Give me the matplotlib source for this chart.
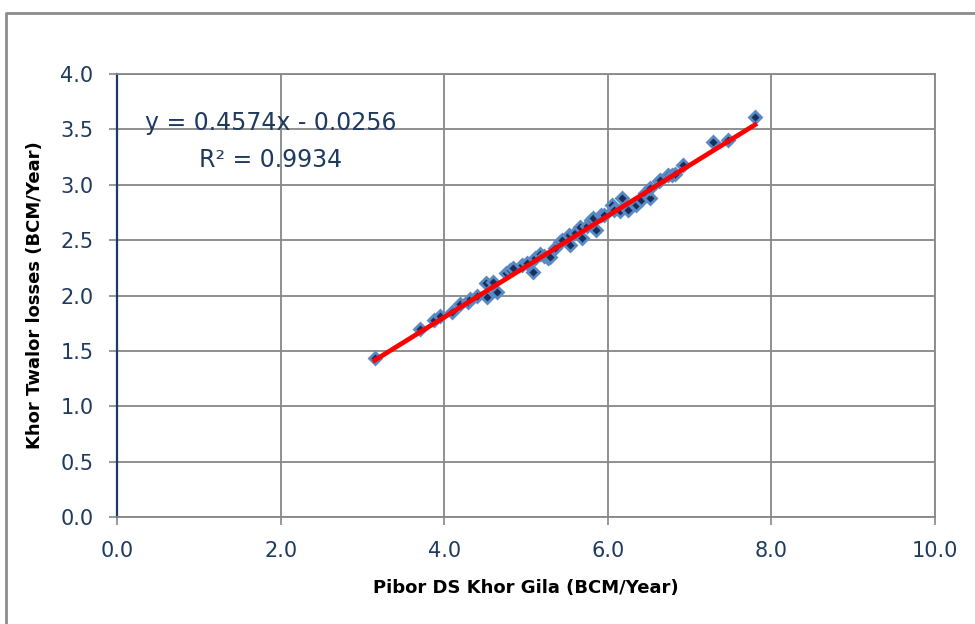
import numpy as np
import matplotlib.pyplot as plt
from matplotlib.lines import Line2D

# values
pibor = [3.15, 3.71, 3.87, 3.95, 4.09, 4.19, 4.29, 4.32, 4.40, 4.51, 4.52, 4.60,
         4.65, 4.76, 4.80, 4.84, 4.95, 5.01, 5.09, 5.11, 5.17, 5.22, 5.27, 5.29,
         5.35, 5.41, 5.44, 5.52, 5.54, 5.60, 5.66, 5.68, 5.74, 5.80, 5.82, 5.86,
         5.92, 5.95, 6.05, 6.07, 6.15, 6.17, 6.25, 6.35, 6.41, 6.45, 6.52, 6.52,
         6.62, 6.64, 6.74, 6.78, 6.82, 6.92, 7.28, 7.47, 7.80]
twalor = [1.44, 1.70, 1.78, 1.815, 1.85, 1.92, 1.94, 1.97, 2.00, 2.11, 1.99, 2.125,
          2.035, 2.20, 2.23, 2.245, 2.275, 2.29, 2.215, 2.335, 2.375, 2.36, 2.335, 2.35,
          2.425, 2.485, 2.50, 2.545, 2.456, 2.56, 2.62, 2.515, 2.63, 2.68, 2.70, 2.59,
          2.73, 2.73, 2.82, 2.77, 2.76, 2.88, 2.77, 2.82, 2.86, 2.93, 2.88, 2.97,
          3.03, 3.04, 3.09, 3.09, 3.10, 3.18, 3.39, 3.40, 3.61]

slope = 0.4574
intercept = -0.0256
r2 = 0.9934

x_ticks = [0, 2, 4, 6, 8, 10]
y_ticks = [0, 0.5, 1.0, 1.5, 2.0, 2.5, 3.0, 3.5, 4.0]

navy = '#1F3A5F'
grid = '#878787'

fig = plt.figure(figsize=(9.75, 6.24), dpi=100)
ax = fig.add_axes([117/975, 1 - 517/624, (935-117)/975, (517-74)/624])

ax.plot(pibor, twalor, linestyle='none', marker='D', markersize=6.3,
        markerfacecolor='#17305A', markeredgecolor='#5A8AC6', markeredgewidth=2, zorder=3)

xl = np.array([min(pibor), max(pibor)])
ax.plot(xl, slope * xl + intercept, color='#FF0000', linewidth=3.4, zorder=4)

ax.set_xlim(0, 10)
ax.set_ylim(0, 4)
ax.set_xticks(x_ticks)
ax.set_yticks(y_ticks)
ax.set_xticklabels(['%.1f' % v for v in x_ticks])
ax.set_yticklabels(['%.1f' % v for v in y_ticks])
ax.grid(True, color=grid, linewidth=1.3, zorder=0)
ax.set_axisbelow(True)

for s in ['top', 'right', 'bottom']:
    ax.spines[s].set_color(grid)
    ax.spines[s].set_linewidth(1.3)
ax.spines['left'].set_color(navy)
ax.spines['left'].set_linewidth(1.6)

ax.tick_params(axis='x', direction='out', length=6, width=1.2, color=grid,
               labelsize=15, labelcolor=navy, pad=11)
ax.tick_params(axis='y', direction='out', length=6, width=1.2, color=grid,
               labelsize=15, labelcolor=navy, pad=11)

lab_font = ['Liberation Sans Narrow', 'DejaVu Sans']
ax.set_xlabel('Pibor DS Khor Gila (BCM/Year)', fontsize=13, fontweight='bold',
              family=lab_font, color='black', labelpad=13)
ax.set_ylabel('Khor Twalor losses (BCM/Year)', fontsize=13, fontweight='bold',
              family=lab_font, color='black', labelpad=12)

ax.text(1.88, 3.56, 'y = %.4fx - %.4f' % (slope, -intercept), fontsize=17,
        color=navy, ha='center', va='center')
ax.text(1.88, 3.22, 'R² = %.4f' % r2, fontsize=17, color=navy, ha='center', va='center')

# outer chart border
fig.add_artist(Line2D([6/975, 6/975, 1], [0, 1 - 13/624, 1 - 13/624],
                      transform=fig.transFigure, color='#8C8C8C', linewidth=2))

fig.savefig('out.png', dpi=100)
